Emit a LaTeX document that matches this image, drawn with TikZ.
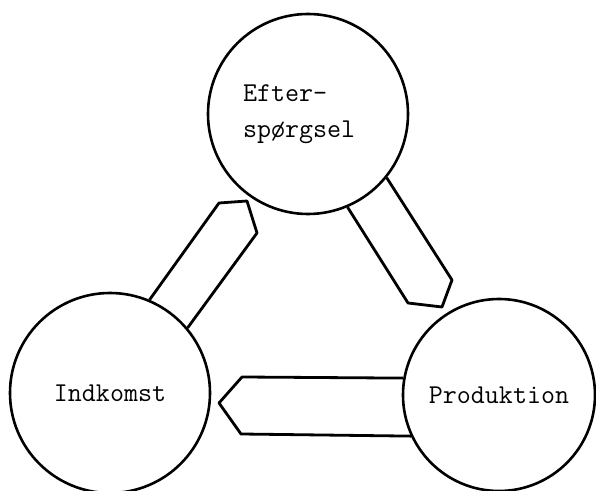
\documentclass[tikz,border=0pt]{standalone}
\usepackage{tikz}
\usetikzlibrary{calc}

\begin{document}
\begin{tikzpicture}[x=0.5pt, y=-0.5pt,
        blob/.style={circle, draw, line width=1.3pt, minimum size=100pt, inner sep=0pt,
            align=left, font=\ttfamily\fontsize{13.6}{18}\selectfont},
        flow/.style={line width=1.4pt, line join=round}]
        % Frame of the page
        \useasboundingbox (0,0) rectangle (596,491);

        % Draw the three circles
        \node[blob, text width=65pt] (eft) at (308,114) {Efter-\\sp\o rgsel};
        \node[blob] (ind) at (110,393) {Indkomst};
        \node[blob, minimum size=96pt] (prod) at (499,395) {Produktion};

        % Efterspoergsel -> Produktion
        \draw[flow] (eft.-67) -- (408,303) -- (442,307) -- (452,280) -- (eft.-39);

        % Produktion -> Indkomst
        \draw[flow] (prod.170) -- (242,377) -- (219,403) -- (241,434) -- (prod.205);

        % Indkomst -> Efterspoergsel
        \draw[flow] (ind.67) -- (219,203) -- (247,201) -- (257,233) -- (ind.40);
    \end{tikzpicture}
\end{document}
